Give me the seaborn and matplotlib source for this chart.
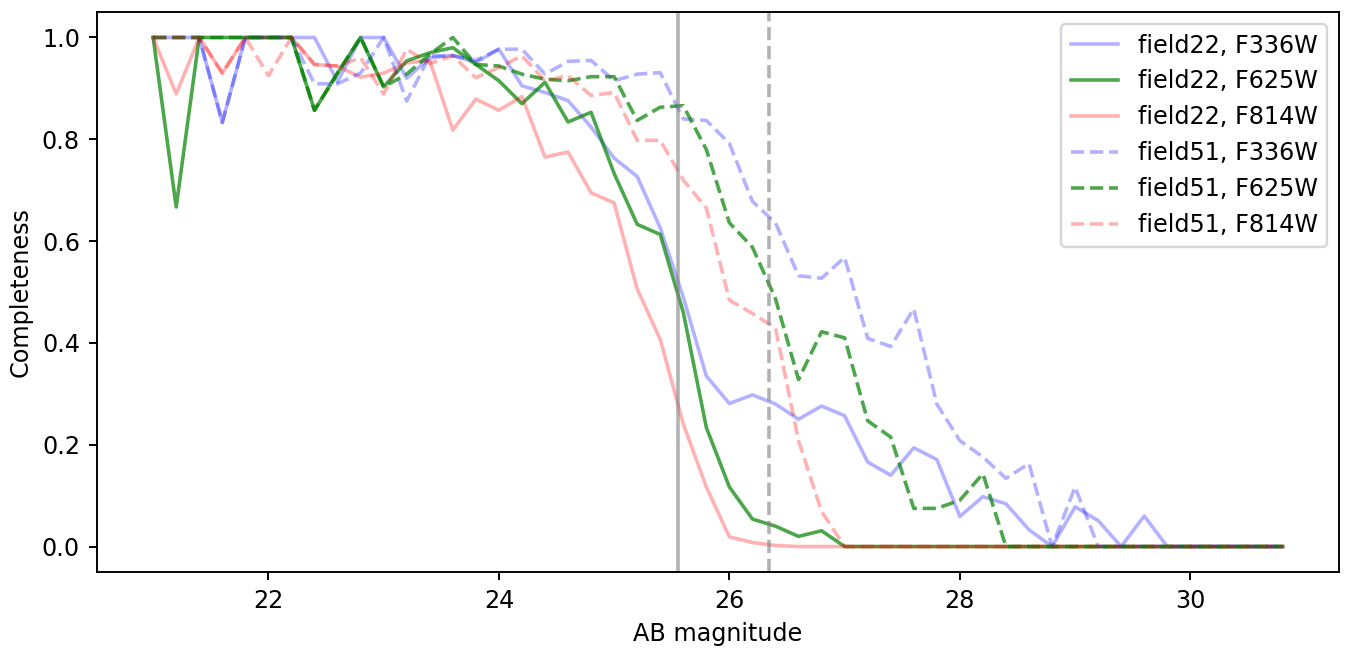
import numpy as np
import pandas as pd
import matplotlib
matplotlib.use("Agg")
import matplotlib.pyplot as plt
import seaborn as sns

# AB magnitude bins (21.0 .. 30.8, step 0.2)
mag = np.round(np.arange(21.0, 30.81, 0.2), 1)

f22_F336W = [1.0, 1.0, 1.0, 0.833, 1.0, 1.0, 1.0, 1.0, 0.913, 1.0,
             1.0, 0.92, 0.96, 0.965, 0.951, 0.977, 0.905, 0.892, 0.876, 0.824,
             0.763, 0.727, 0.626, 0.49, 0.335, 0.281, 0.298, 0.28, 0.25, 0.276,
             0.257, 0.166, 0.14, 0.194, 0.171, 0.059, 0.098, 0.084, 0.033, 0.0,
             0.078, 0.051, 0.0, 0.06, 0.0, 0.0, 0.0, 0.0, 0.0, 0.0]
f22_F625W = [1.0, 0.667, 1.0, 1.0, 1.0, 1.0, 1.0, 0.857, 0.93, 1.0,
             0.903, 0.954, 0.97, 0.98, 0.947, 0.915, 0.87, 0.912, 0.834, 0.853,
             0.733, 0.633, 0.613, 0.46, 0.234, 0.117, 0.054, 0.04, 0.02, 0.031,
             0.0, 0.0, 0.0, 0.0, 0.0, 0.0, 0.0, 0.0, 0.0, 0.0,
             0.0, 0.0, 0.0, 0.0, 0.0, 0.0, 0.0, 0.0, 0.0, 0.0]
f22_F814W = [1.0, 0.889, 1.0, 0.93, 1.0, 1.0, 1.0, 0.947, 0.944, 0.922,
             0.93, 0.95, 0.955, 0.818, 0.879, 0.857, 0.884, 0.765, 0.775, 0.695,
             0.675, 0.506, 0.407, 0.241, 0.117, 0.019, 0.008, 0.002, 0.0, 0.0,
             0.0, 0.0, 0.0, 0.0, 0.0, 0.0, 0.0, 0.0, 0.0, 0.0,
             0.0, 0.0, 0.0, 0.0, 0.0, 0.0, 0.0, 0.0, 0.0, 0.0]
f51_F336W = [1.0, 1.0, 1.0, 0.833, 1.0, 1.0, 1.0, 0.909, 0.909, 0.93,
             1.0, 0.875, 0.964, 0.964, 0.955, 0.977, 0.977, 0.928, 0.953, 0.955,
             0.915, 0.928, 0.931, 0.84, 0.837, 0.792, 0.678, 0.636, 0.532, 0.527,
             0.568, 0.409, 0.393, 0.467, 0.28, 0.208, 0.176, 0.134, 0.163, 0.0,
             0.117, 0.0, 0.0, 0.0, 0.0, 0.0, 0.0, 0.0, 0.0, 0.0]
f51_F625W = [1.0, 1.0, 1.0, 1.0, 1.0, 1.0, 1.0, 0.857, 0.93, 1.0,
             0.903, 0.928, 0.967, 1.0, 0.947, 0.944, 0.928, 0.918, 0.915, 0.923,
             0.923, 0.837, 0.863, 0.866, 0.78, 0.636, 0.588, 0.487, 0.328, 0.422,
             0.41, 0.247, 0.215, 0.075, 0.075, 0.091, 0.143, 0.0, 0.0, 0.0,
             0.0, 0.0, 0.0, 0.0, 0.0, 0.0, 0.0, 0.0, 0.0, 0.0]
f51_F814W = [1.0, 1.0, 1.0, 0.93, 1.0, 0.925, 1.0, 0.947, 0.944, 0.96,
             0.889, 0.977, 0.949, 0.964, 0.921, 0.941, 0.964, 0.915, 0.925, 0.886,
             0.892, 0.798, 0.798, 0.72, 0.665, 0.484, 0.458, 0.429, 0.208, 0.069,
             0.0, 0.0, 0.0, 0.0, 0.0, 0.0, 0.0, 0.0, 0.0, 0.0,
             0.0, 0.0, 0.0, 0.0, 0.0, 0.0, 0.0, 0.0, 0.0, 0.0]

series_labels = ["field22, F336W", "field22, F625W", "field22, F814W",
                 "field51, F336W", "field51, F625W", "field51, F814W"]
series_values = [f22_F336W, f22_F625W, f22_F814W, f51_F336W, f51_F625W, f51_F814W]

limit_solid = 25.55
limit_dashed = 26.34

styles = {
    "field22, F336W": dict(color="b", alpha=0.3, linestyle="-"),
    "field22, F625W": dict(color="g", alpha=0.7, linestyle="-"),
    "field22, F814W": dict(color="r", alpha=0.3, linestyle="-"),
    "field51, F336W": dict(color="b", alpha=0.3, linestyle="--"),
    "field51, F625W": dict(color="g", alpha=0.7, linestyle="--"),
    "field51, F814W": dict(color="r", alpha=0.3, linestyle="--"),
}

df = pd.concat([pd.DataFrame({"mag": mag, "comp": v, "series": lab})
                for lab, v in zip(series_labels, series_values)], ignore_index=True)

DPI = 172
fig = plt.figure(figsize=(1352 / DPI, 650 / DPI), dpi=DPI)
ax = fig.add_subplot(111)

for lab in series_labels:
    sub = df[df["series"] == lab]
    sns.lineplot(data=sub, x="mag", y="comp", ax=ax, label=lab,
                 linewidth=1.5, **styles[lab])

ax.axvline(limit_solid, color="grey", alpha=0.6, linewidth=1.5, linestyle="-")
ax.axvline(limit_dashed, color="grey", alpha=0.6, linewidth=1.5, linestyle="--")

ax.set_xlabel("AB magnitude")
ax.set_ylabel("Completeness")
ax.set_xticks([22, 24, 26, 28, 30])
ax.legend(loc="upper right")

fig.subplots_adjust(left=0.0715, right=0.9904, top=0.9815, bottom=0.12)
fig.savefig("out.png", dpi=DPI)
